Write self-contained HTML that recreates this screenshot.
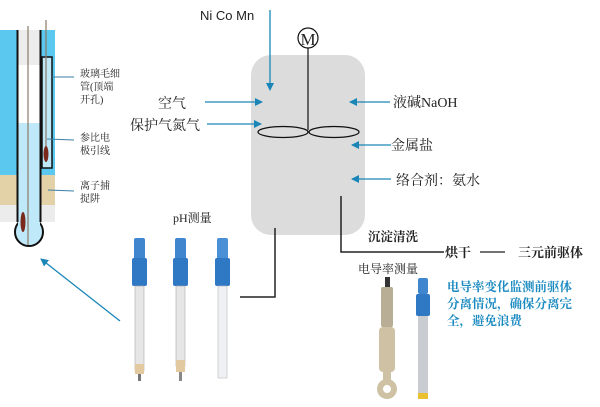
<!DOCTYPE html>
<html><head><meta charset="utf-8"><style>
html,body{margin:0;padding:0;background:#fff;width:600px;height:407px;overflow:hidden}
svg{display:block}
text{font-family:"Liberation Serif","Noto Serif CJK SC",serif;fill:#222}
.s{font-family:"Liberation Sans","Noto Sans CJK SC",sans-serif}
</style></head><body>
<svg width="600" height="407" viewBox="0 0 600 407" xmlns="http://www.w3.org/2000/svg">
<defs>
<marker id="a" markerWidth="8" markerHeight="8" refX="7" refY="4" orient="auto" markerUnits="userSpaceOnUse"><path d="M0,0 L8,4 L0,8 Z" fill="#1a86b8"/></marker>
</defs>
<!-- electrode diagram -->
<rect x="0" y="30" width="55" height="192" fill="#5bc8ef"/>
<rect x="0" y="175" width="55" height="30" fill="#e3d2a8"/>
<rect x="0" y="205" width="55" height="17" fill="#ececec"/>
<rect x="18" y="30" width="22" height="35" fill="#ececec"/>
<rect x="18" y="65" width="22" height="58" fill="#fff"/>
<rect x="18" y="123" width="22" height="100" fill="#bfe9f8"/>
<circle cx="29" cy="232" r="14" fill="#bfe9f8" stroke="#111" stroke-width="2"/>
<rect x="18" y="215" width="22" height="12" fill="#bfe9f8"/>
<line x1="17.5" y1="30" x2="17.5" y2="222" stroke="#111" stroke-width="2"/>
<line x1="40.5" y1="30" x2="40.5" y2="222" stroke="#111" stroke-width="2"/>
<line x1="28" y1="26" x2="28" y2="245" stroke="#8a7a68" stroke-width="1.2"/>
<ellipse cx="23" cy="222" rx="2.5" ry="10" fill="#7a2a1a"/>
<rect x="42" y="57" width="10" height="111" fill="#bfe9f8" stroke="#111" stroke-width="1.5"/>
<line x1="46" y1="20" x2="46" y2="158" stroke="#8a7a68" stroke-width="1.2"/>
<ellipse cx="46" cy="154" rx="2.5" ry="8" fill="#7a2a1a"/>
<line x1="52" y1="77" x2="74" y2="77" stroke="#3a7fa8" stroke-width="1"/>
<line x1="47" y1="139" x2="74" y2="140" stroke="#3a7fa8" stroke-width="1"/>
<line x1="48" y1="190" x2="74" y2="191" stroke="#3a7fa8" stroke-width="1"/>
<text x="80" y="77" font-size="10">玻璃毛细</text>
<text x="80" y="90" font-size="10">管(顶端</text>
<text x="80" y="103" font-size="10">开孔)</text>
<text x="80" y="141" font-size="10">参比电</text>
<text x="80" y="154" font-size="10">极引线</text>
<text x="80" y="189" font-size="10">离子捕</text>
<text x="80" y="202" font-size="10">捉阱</text>
<line x1="120" y1="321" x2="41" y2="259" stroke="#1a86b8" stroke-width="1.3" marker-end="url(#a)"/>
<!-- vessel -->
<rect x="251" y="55" width="114" height="180" rx="20" fill="#dcdcdc"/>
<circle cx="308" cy="38" r="10" fill="#fff" stroke="#111" stroke-width="1.2"/>
<text x="308" y="45" font-size="17" text-anchor="middle">M</text>
<line x1="308" y1="48" x2="308" y2="130" stroke="#111" stroke-width="1.2"/>
<ellipse cx="283" cy="132" rx="25" ry="5.5" fill="none" stroke="#111" stroke-width="1.2"/>
<ellipse cx="334" cy="132" rx="25" ry="5.5" fill="none" stroke="#111" stroke-width="1.2"/>
<text class="s" x="200" y="20" font-size="13">Ni Co Mn</text>
<line x1="270" y1="10" x2="270" y2="90" stroke="#1a86b8" stroke-width="1.3" marker-end="url(#a)"/>
<text x="158" y="108" font-size="14">空气</text>
<line x1="205" y1="102" x2="262" y2="102" stroke="#1a86b8" stroke-width="1.3" marker-end="url(#a)"/>
<text x="130" y="130" font-size="14">保护气氮气</text>
<line x1="207" y1="124" x2="261" y2="124" stroke="#1a86b8" stroke-width="1.3" marker-end="url(#a)"/>
<line x1="390" y1="102" x2="350" y2="102" stroke="#1a86b8" stroke-width="1.3" marker-end="url(#a)"/>
<text x="393" y="107" font-size="14">液碱NaOH</text>
<line x1="391" y1="145" x2="352" y2="145" stroke="#1a86b8" stroke-width="1.3" marker-end="url(#a)"/>
<text x="391" y="150" font-size="14">金属盐</text>
<line x1="391" y1="179" x2="352" y2="179" stroke="#1a86b8" stroke-width="1.3" marker-end="url(#a)"/>
<text x="396" y="185" font-size="14">络合剂：氨水</text>
<!-- connectors -->
<polyline points="341,196 341,252 444,252" fill="none" stroke="#222" stroke-width="1.5"/>
<polyline points="275,228 275,297 240,297" fill="none" stroke="#222" stroke-width="1.5"/>
<text x="368" y="241" font-size="12.5" font-weight="bold">沉淀清洗</text>
<text x="445" y="257" font-size="13" font-weight="bold">烘干</text>
<line x1="480" y1="252" x2="505" y2="252" stroke="#222" stroke-width="1.3"/>
<text x="518" y="257" font-size="13" font-weight="bold">三元前驱体</text>
<text x="358" y="273" font-size="12">电导率测量</text>
<text x="173" y="222" font-size="12">pH测量</text>
<g font-size="12.5" font-weight="bold" style="fill:#1a8ac0">
<text x="447" y="291" style="fill:#1a8ac0">电导率变化监测前驱体</text>
<text x="447" y="308" style="fill:#1a8ac0">分离情况，确保分离完</text>
<text x="447" y="325" style="fill:#1a8ac0">全，避免浪费</text>
</g>
<!-- pH probes -->
<g>
<rect x="134" y="238" width="11" height="22" rx="2" fill="#3f86cf"/>
<rect x="132" y="258" width="15" height="28" rx="2" fill="#2f78c4"/>
<rect x="135" y="286" width="9" height="85" fill="#e6e6e6" stroke="#aaa" stroke-width="0.6"/>
<rect x="135" y="364" width="9" height="10" fill="#e3c9a0"/>
<rect x="138" y="374" width="3" height="7" fill="#777"/>
<rect x="175" y="238" width="11" height="22" rx="2" fill="#3f86cf"/>
<rect x="173" y="258" width="15" height="28" rx="2" fill="#2f78c4"/>
<rect x="176" y="286" width="9" height="80" fill="#e6e6e6" stroke="#aaa" stroke-width="0.6"/>
<rect x="176" y="360" width="9" height="12" fill="#e3c9a0"/>
<rect x="179" y="372" width="3" height="9" fill="#888"/>
<rect x="217" y="238" width="11" height="22" rx="2" fill="#4a90d6"/>
<rect x="215" y="258" width="15" height="28" rx="2" fill="#2f78c4"/>
<rect x="218" y="286" width="9" height="92" fill="#eef0f4" stroke="#bbb" stroke-width="0.6"/>
</g>
<!-- conductivity probes -->
<g>
<rect x="385" y="277" width="5" height="10" fill="#333"/>
<rect x="381" y="287" width="12" height="40" rx="2" fill="#b8ad95"/>
<rect x="379" y="327" width="16" height="45" rx="4" fill="#cfc2a4"/>
<rect x="383" y="370" width="8" height="12" fill="#cfc2a4"/>
<circle cx="387" cy="389" r="10" fill="#cfc2a4"/>
<circle cx="387" cy="389" r="4" fill="#fff"/>
<rect x="418" y="278" width="10" height="16" rx="2" fill="#3f86cf"/>
<rect x="416" y="294" width="14" height="22" rx="2" fill="#2f78c4"/>
<rect x="418" y="316" width="10" height="80" fill="#c9ccd0"/>
<rect x="418" y="393" width="10" height="6" fill="#e8c030"/>
</g>
</svg>
</body></html>
